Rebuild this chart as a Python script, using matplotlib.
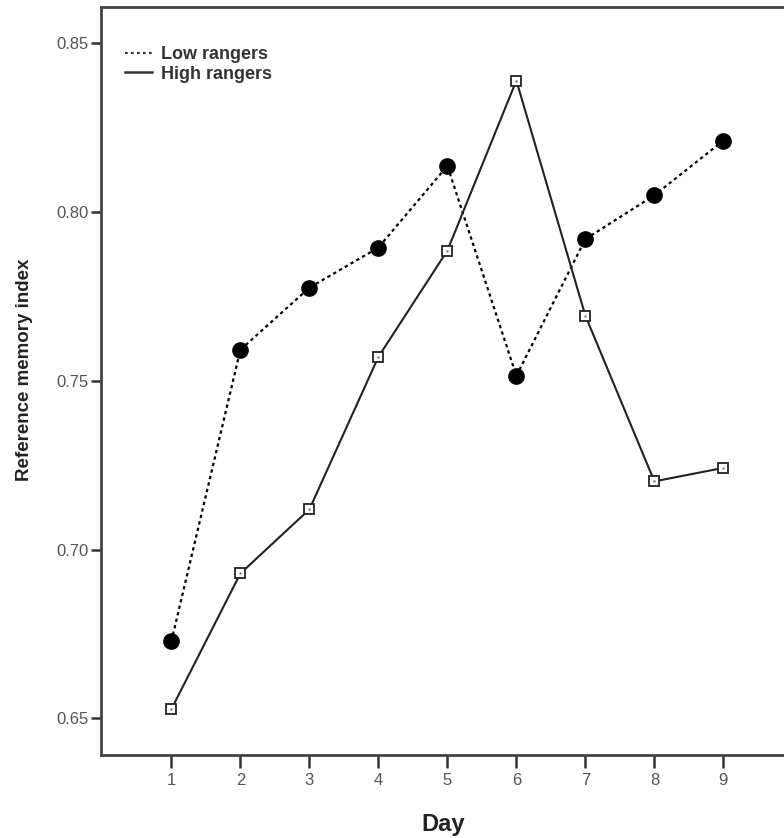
import numpy as np
import matplotlib.pyplot as plt
from matplotlib.lines import Line2D

plt.rcParams['font.family'] = ['Liberation Sans', 'DejaVu Sans']

days = [1, 2, 3, 4, 5, 6, 7, 8, 9]
low_rangers = [0.6728, 0.7592, 0.7776, 0.7895, 0.8137, 0.7515, 0.7920, 0.8050, 0.8212]
high_rangers = [0.6527, 0.6929, 0.7119, 0.7571, 0.7886, 0.8390, 0.7693, 0.7202, 0.7242]
yticks = [0.65, 0.70, 0.75, 0.80, 0.85]

fig = plt.figure(figsize=(7.84, 8.38), dpi=100)
ax = fig.add_axes([101 / 784, 1 - 755 / 838, 1 - 101 / 784 + 0.001, (755 - 7) / 838])

ax.plot(days, low_rangers, color='black', linestyle=(0, (1.5, 1.5)), linewidth=1.6,
        marker='o', markersize=11, markerfacecolor='black', markeredgecolor='black')
ax.plot(days, high_rangers, color='#222222', linestyle='-', linewidth=1.5,
        marker='s', markersize=7, markerfacecolor='white', markeredgecolor='#222222',
        markeredgewidth=1.3)
ax.plot(days, high_rangers, linestyle='none', marker='s', markersize=2,
        markerfacecolor='#666666', markeredgecolor='none')

ax.set_xlim(-0.02, 9.89)
ax.set_ylim(0.6391, 0.8608)
ax.set_xticks(days)
ax.set_yticks(yticks)
ax.set_yticklabels([f'{v:.2f}' for v in yticks])
ax.tick_params(direction='out', length=9, width=1.8, color='#333333',
               labelsize=12, labelcolor='#555555')
ax.tick_params(axis='x', pad=4)
ax.tick_params(axis='y', pad=2, length=7)

for side in ['left', 'bottom', 'top']:
    ax.spines[side].set_linewidth(2)
    ax.spines[side].set_color('#444444')
ax.spines['right'].set_visible(False)

ax.set_xlabel('Day', fontsize=17, fontweight='bold', color='#222222', labelpad=18)
ax.set_ylabel('Reference memory index', fontsize=13.5, fontweight='bold', color='#222222')
ax.yaxis.set_label_coords(-0.1, 0.515)

handles = [Line2D([0], [0], color='#333333', linestyle=(0, (1.2, 1.5)), linewidth=1.6),
           Line2D([0], [0], color='#333333', linestyle='-', linewidth=1.8)]
leg = ax.legend(handles, ['Low rangers', 'High rangers'], loc='upper left',
                bbox_to_anchor=(0.025, 0.957), borderaxespad=0, frameon=False, fontsize=13,
                handlelength=1.5, handletextpad=0.5, labelspacing=0.12)
for t in leg.get_texts():
    t.set_fontweight('bold')
    t.set_color('#333333')

fig.savefig('out.png', dpi=100)
